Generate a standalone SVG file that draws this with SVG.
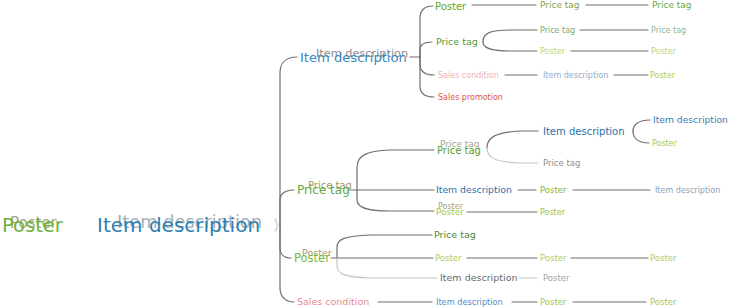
<svg xmlns="http://www.w3.org/2000/svg" width="729" height="307" viewBox="0 0 729 307">
  <style>
    text { font-family: "DejaVu Sans", "Liberation Sans", sans-serif; }
    .ln { fill: none; stroke: #766d6d; stroke-width: 1.2; stroke-linecap: round; }
    .lt { fill: none; stroke: #c4c4c4; stroke-width: 1.1; stroke-linecap: round; }
  </style>
  <rect width="729" height="307" fill="#ffffff"/>

  <!-- connectors -->
  <g id="connectors">
    <!-- trunk from the root -->
    <path class="ln" d="M280 225 L280 73 C280 63 286 57 297 57"/>
    <path class="ln" d="M280 225 L280 200 C280 194 285 190 294 190"/>
    <path class="ln" d="M280 225 L280 248 C280 254 284 258 291 258"/>
    <path class="ln" d="M280 225 L280 288 C280 297 286 302 294 302"/>
    <path class="lt" d="M275 219 C278 222 278 228 275 231"/>

    <!-- under Item description -->
    <path class="ln" d="M410 57 L420 57"/>
    <path class="ln" d="M420 57 L420 18 C420 10 425 6 433 6"/>
    <path class="ln" d="M420 57 L420 50 C420 45 424 42 432 42"/>
    <path class="ln" d="M420 57 L420 64 C420 71 425 75 434 75"/>
    <path class="ln" d="M420 57 L420 86 C420 93 425 97 434 97"/>
    <path class="ln" d="M472 5 L536 5"/>
    <path class="ln" d="M586 5 L648 5"/>
    <path class="ln" d="M483 42 C483 33 490 30 510 30 L537 30"/>
    <path class="ln" d="M483 42 C483 48 490 51 510 51 L537 51"/>
    <path class="ln" d="M580 30 L648 30"/>
    <path class="ln" d="M571 51 L648 51"/>
    <path class="ln" d="M505 75 L537 75"/>
    <path class="ln" d="M614 75 L648 75"/>

    <!-- under Price tag -->
    <path class="ln" d="M357 190 L357 168 C357 156 365 151 390 150 L434 150"/>
    <path class="ln" d="M351 190 L434 190"/>
    <path class="ln" d="M357 190 L357 200 C357 207 365 211 390 211 L434 211"/>
    <path class="ln" d="M487 148 C487 138 495 132 520 131 L538 131"/>
    <path class="lt" d="M487 148 C487 158 495 162 520 163 L538 163"/>
    <path class="ln" d="M633 131 C633 125 638 120 650 120"/>
    <path class="ln" d="M633 131 C633 138 638 143 649 143"/>
    <path class="ln" d="M518 190 L536 190"/>
    <path class="ln" d="M573 190 L650 190"/>
    <path class="ln" d="M467 212 L537 212"/>

    <!-- under Poster -->
    <path class="ln" d="M337 258 L337 247 C337 239 345 236 370 235 L432 235"/>
    <path class="ln" d="M331 258 L433 258"/>
    <path class="lt" d="M337 258 L337 266 C337 274 345 277 370 278 L437 278"/>
    <path class="ln" d="M467 258 L537 258"/>
    <path class="ln" d="M571 258 L648 258"/>
    <path class="lt" d="M519 278 L537 278"/>

    <!-- under Sales condition -->
    <path class="ln" d="M378 302 L432 302"/>
    <path class="ln" d="M512 302 L537 302"/>
    <path class="ln" d="M573 302 L646 302"/>
  </g>

  <!-- root -->
  <g id="root-poster">
    <text x="10" y="227.5" font-size="15" fill="#a3aa7c">Poster</text>
    <text x="2" y="232" font-size="19.5" fill="#6cb33e">Poster</text>
  </g>
  <g id="root-item">
    <text x="117" y="227.5" font-size="17.8" fill="#a6b0b8">Item description</text>
    <text x="97" y="232" font-size="20" fill="#2e7fb2">Item description</text>
  </g>

  <!-- first level -->
  <g id="n-item">
    <text x="316" y="57" font-size="11.3" fill="#8c8c8c">Item description</text>
    <text x="300" y="62" font-size="13.1" fill="#3a88c0">Item description</text>
  </g>
  <g id="n-price">
    <text x="308" y="189" font-size="10" fill="#9c9c6c">Price tag</text>
    <text x="297" y="194" font-size="12" fill="#62a848">Price tag</text>
  </g>
  <g id="n-poster">
    <text x="302" y="256" font-size="9.5" fill="#9c9c72">Poster</text>
    <text x="294" y="262" font-size="11.5" fill="#7ab83a">Poster</text>
  </g>
  <g id="n-sales">
    <text x="297" y="305.3" font-size="9.5" fill="#ea8a8c">Sales condition</text>
  </g>

  <!-- branch: Item description -->
  <g id="n-item-poster"><text x="435" y="9.5" font-size="10" fill="#5fa82a">Poster</text></g>
  <g id="n-item-poster-1"><text x="540" y="8.2" font-size="9" fill="#8aa040">Price tag</text></g>
  <g id="n-item-poster-2"><text x="652" y="8.2" font-size="9" fill="#6aa83a">Price tag</text></g>
  <g id="n-item-price"><text x="436" y="45.3" font-size="9.5" fill="#4f9a3a">Price tag</text></g>
  <g id="n-item-price-a"><text x="540" y="32.8" font-size="8" fill="#80a870">Price tag</text></g>
  <g id="n-item-price-a2"><text x="651" y="32.8" font-size="8" fill="#90b890">Price tag</text></g>
  <g id="n-item-price-b"><text x="540" y="53.8" font-size="8" fill="#c0d47a">Poster</text></g>
  <g id="n-item-price-b2"><text x="651" y="53.8" font-size="8" fill="#c0d47a">Poster</text></g>
  <g id="n-item-sales"><text x="438" y="77.8" font-size="8" fill="#f0b0b0">Sales condition</text></g>
  <g id="n-item-sales-1"><text x="543" y="77.8" font-size="8" fill="#90aed0">Item description</text></g>
  <g id="n-item-sales-2"><text x="650" y="77.8" font-size="8" fill="#b0cc60">Poster</text></g>
  <g id="n-item-promo"><text x="438" y="99.8" font-size="8" fill="#d9534f">Sales promotion</text></g>

  <!-- branch: Price tag -->
  <g id="n-price-price">
    <text x="440" y="147" font-size="9" fill="#a4a484">Price tag</text>
    <text x="437" y="153.5" font-size="10" fill="#5a9e2c">Price tag</text>
  </g>
  <g id="n-price-price-item"><text x="543" y="134.5" font-size="10" fill="#2b70a8">Item description</text></g>
  <g id="n-price-price-item-a"><text x="653" y="123.2" font-size="9.2" fill="#3a80b4">Item description</text></g>
  <g id="n-price-price-item-b"><text x="652" y="145.8" font-size="8" fill="#a8c858">Poster</text></g>
  <g id="n-price-price-tag"><text x="543" y="166" font-size="8.5" fill="#909090">Price tag</text></g>
  <g id="n-price-item"><text x="436" y="193.3" font-size="9.3" fill="#2b70a8">Item description</text></g>
  <g id="n-price-item-1"><text x="540" y="193" font-size="8.5" fill="#8ab834">Poster</text></g>
  <g id="n-price-item-2"><text x="655" y="192.8" font-size="8" fill="#8aa2bc">Item description</text></g>
  <g id="n-price-poster">
    <text x="438" y="209" font-size="8" fill="#a4a484">Poster</text>
    <text x="436" y="215" font-size="9" fill="#a8c84a">Poster</text>
  </g>
  <g id="n-price-poster-1"><text x="540" y="214.8" font-size="8" fill="#9cc050">Poster</text></g>

  <!-- branch: Poster -->
  <g id="n-poster-price"><text x="434" y="238.3" font-size="9.5" fill="#3f8a3f">Price tag</text></g>
  <g id="n-poster-poster"><text x="435" y="261" font-size="8.5" fill="#b0cc66">Poster</text></g>
  <g id="n-poster-poster-1"><text x="540" y="261" font-size="8.5" fill="#b0cc66">Poster</text></g>
  <g id="n-poster-poster-2"><text x="650" y="261" font-size="8.5" fill="#b0cc66">Poster</text></g>
  <g id="n-poster-item"><text x="440" y="281.3" font-size="9.5" fill="#6a6a6a">Item description</text></g>
  <g id="n-poster-item-1"><text x="543" y="281" font-size="8.5" fill="#a4a4a4">Poster</text></g>

  <!-- branch: Sales condition -->
  <g id="n-sales-item"><text x="436" y="304.9" font-size="8.2" fill="#4a90cc">Item description</text></g>
  <g id="n-sales-item-1"><text x="540" y="305" font-size="8.5" fill="#a8c858">Poster</text></g>
  <g id="n-sales-item-2"><text x="650" y="305" font-size="8.5" fill="#a8c858">Poster</text></g>
</svg>
